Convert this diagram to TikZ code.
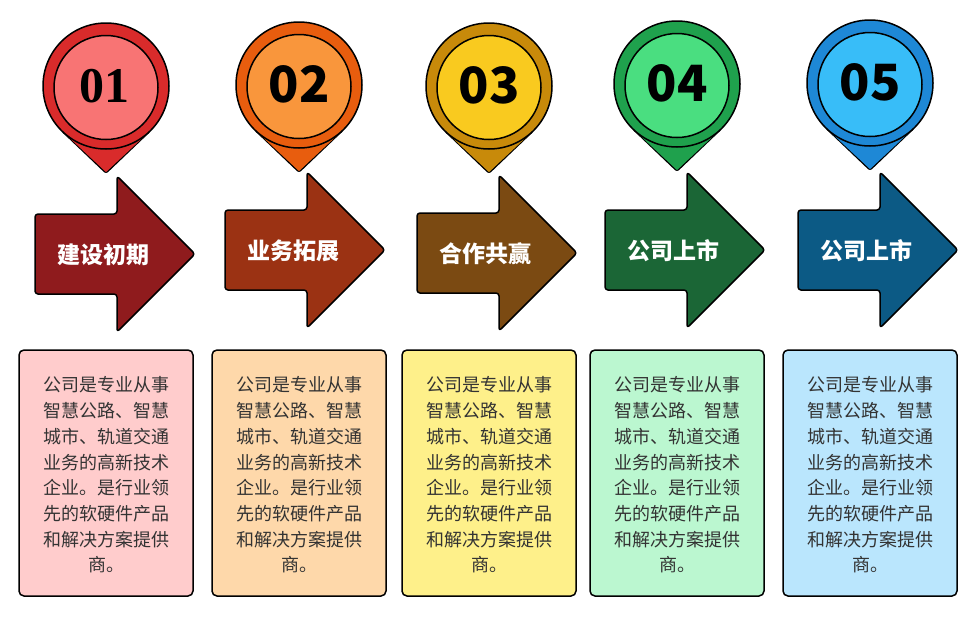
\documentclass[tikz,border=0pt]{standalone}
\usepackage{fontspec}
\newfontfamily\cjk{Noto Sans CJK SC}
\newfontfamily\numserif{Liberation Serif}
\definecolor{po1}{HTML}{D92B2B}\definecolor{pi1}{HTML}{F87474}\definecolor{ar1}{HTML}{8F1B1D}\definecolor{bx1}{HTML}{FFCCCC}
\definecolor{po2}{HTML}{E85D0E}\definecolor{pi2}{HTML}{F9963C}\definecolor{ar2}{HTML}{9B3213}\definecolor{bx2}{HTML}{FED8AA}
\definecolor{po3}{HTML}{C88A0A}\definecolor{pi3}{HTML}{F9CA1F}\definecolor{ar3}{HTML}{7B4A12}\definecolor{bx3}{HTML}{FEF08A}
\definecolor{po4}{HTML}{1FA14D}\definecolor{pi4}{HTML}{4ADE80}\definecolor{ar4}{HTML}{1B6636}\definecolor{bx4}{HTML}{BBF7D0}
\definecolor{po5}{HTML}{1E88D6}\definecolor{pi5}{HTML}{38BDF8}\definecolor{ar5}{HTML}{0C5A85}\definecolor{bx5}{HTML}{BAE6FD}
\definecolor{txtgray}{HTML}{333333}
\begin{document}
\begin{tikzpicture}[x=1pt,y=-1pt,
  outl/.style={draw=black,line width=1.5pt,line join=round},
  numtxt/.style={font=\cjk\bfseries\fontsize{50}{50}\selectfont,text=black,inner sep=0pt},
  labtxt/.style={font=\cjk\bfseries\fontsize{23}{23}\selectfont,text=white,inner sep=0pt},
  boxtxt/.style={font=\cjk\fontsize{18}{25.7}\selectfont,text=txtgray,align=center,text width=140pt,inner sep=0pt}]
\useasboundingbox[fill=white] (0,0) rectangle (978,619);
\foreach \i/\cx/\cy/\L/\ay/\lab in {1/106/86/35/254/建设初期,2/299/85/225/250/业务拓展,3/489/86/417/253/合作共赢,4/677/84/605/250/公司上市,5/870/83/798/250/公司上市}{
  % text box
  \draw[outl,fill=bx\i,rounded corners=5pt] (\cx-87,350) rectangle (\cx+87,596);
  \node[boxtxt] (desc\i) at (\cx,475) {公司是专业从事\\智慧公路、智慧\\城市、轨道交通\\业务的高新技术\\企业。是行业领\\先的软硬件产品\\和解决方案提供\\商。};
  % arrow
  \draw[outl,fill=ar\i,rounded corners=3pt] (\L,\ay-40) -- (\L+82,\ay-40) -- (\L+82,\ay-78) -- (\L+160,\ay) -- (\L+82,\ay+78) -- (\L+82,\ay+40) -- (\L,\ay+40) -- cycle;
  \node[labtxt] (lab\i) at (\L+68,\ay+1) {\lab};
  % pin
  \draw[outl,fill=po\i,rounded corners=2pt] (\cx-43,\cy+46) -- (\cx,\cy+87) -- (\cx+43,\cy+46);
  \fill[po\i] (\cx-43,\cy+46) -- (\cx,\cy+86) -- (\cx+43,\cy+46) -- cycle;
  \draw[outl,fill=po\i] (\cx,\cy) circle [radius=63pt];
  \draw[outl,fill=pi\i] (\cx,\cy+1.5) circle [radius=52pt];
}
\node[numtxt,font=\numserif\bfseries\fontsize{50}{50}\selectfont] (n1) at (104,86) {01};
\node[numtxt] (n2) at (299,84) {02};
\node[numtxt] (n3) at (489,85) {03};
\node[numtxt] (n4) at (677,83) {04};
\node[numtxt] (n5) at (870,82) {05};
\end{tikzpicture}
\end{document}
